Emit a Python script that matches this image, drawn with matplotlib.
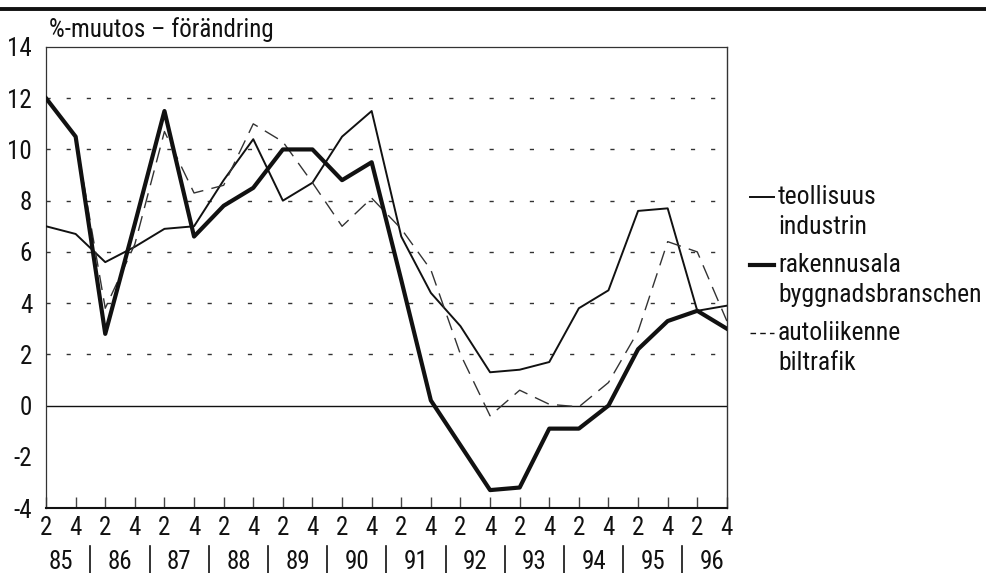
import matplotlib
matplotlib.use("Agg")
import matplotlib.pyplot as plt
from matplotlib.lines import Line2D
from matplotlib import font_manager
import numpy as np

# pick a narrow sans if one is installed
installed = set(f.name for f in font_manager.fontManager.ttflist)
narrow = [n for n in ['Roboto Condensed', 'Liberation Sans Narrow', 'Open Sans Condensed']
          if n in installed]
plt.rcParams['font.family'] = narrow[:1] + ['DejaVu Sans']
plt.rcParams['font.stretch'] = 'condensed'

# half-year observations, 1985 Q2 ... 1996 Q4
years = ['85', '86', '87', '88', '89', '90', '91', '92', '93', '94', '95', '96']
quarters = ['2', '4']

teollisuus = [7.0, 6.7, 5.6, 6.2, 6.9, 7.0, 8.8, 10.4, 8.0, 8.7, 10.5, 11.5,
              6.6, 4.4, 3.1, 1.3, 1.4, 1.7, 3.8, 4.5, 7.6, 7.7, 3.7, 3.9]
rakennusala = [12.0, 10.5, 2.8, 7.1, 11.5, 6.6, 7.8, 8.5, 10.0, 10.0, 8.8, 9.5,
               4.9, 0.2, -1.55, -3.3, -3.2, -0.9, -0.9, 0.0, 2.2, 3.3, 3.7, 3.0]
autoliikenne = [12.0, 10.5, 3.8, 6.3, 10.7, 8.3, 8.6, 11.0, 10.3, 8.7, 7.0, 8.1,
                6.9, 5.3, 2.0, -0.4, 0.6, 0.05, -0.05, 0.9, 2.9, 6.4, 6.0, 3.3]

x = np.arange(len(teollisuus))
ink = '#111111'

fig = plt.figure(figsize=(9.86, 5.73), dpi=100)
ax = fig.add_axes([0.0467, 0.1134, 0.6905, 0.8046])

# grid
for v in [2, 4, 6, 8, 10, 12]:
    ax.axhline(v, color='#333333', lw=1.0, ls=(0, (3, 11.5)), zorder=1)
ax.axhline(0, color=ink, lw=1.0, zorder=2)

ax.plot(x, teollisuus, color=ink, lw=1.4, zorder=3)
ax.plot(x, autoliikenne, color='#333333', lw=1.0, ls=(0, (11, 6)), zorder=3)
ax.plot(x, rakennusala, color=ink, lw=3.0, zorder=4)

ax.set_xlim(0, len(x) - 1)
ax.set_ylim(-4, 14)
ax.set_yticks(range(-4, 15, 2))
ax.set_yticklabels([str(v) for v in range(-4, 15, 2)], fontsize=18, color=ink)

ax.set_xticks(x)
ax.set_xticklabels(quarters * len(years), fontsize=18, color=ink)
ax.tick_params(axis='x', direction='in', length=8, width=1, color='#444444', pad=6)
ax.tick_params(axis='y', length=0, pad=10)

for s in ['top', 'left']:
    ax.spines[s].set_linestyle((0, (1, 1)))
    ax.spines[s].set_linewidth(0.9)
    ax.spines[s].set_color('#333333')
ax.spines['right'].set_linewidth(1.0)
ax.spines['right'].set_color('#333333')
ax.spines['bottom'].set_linewidth(1.5)
ax.spines['bottom'].set_color(ink)

# year labels and separators
trans = ax.get_xaxis_transform()
for k, yr in enumerate(years):
    ax.text(2 * k + 0.5, -0.118, yr, transform=trans, ha='center', va='center',
            fontsize=18, color=ink, clip_on=False)
    if k > 0:
        ax.add_line(Line2D([2 * k - 0.5, 2 * k - 0.5], [-0.082, -0.142],
                           transform=trans, color=ink, lw=1.2, clip_on=False))

fig.text(0.05, 0.949, '%-muutos \u2013 förändring', fontsize=18, color=ink,
         ha='left', va='center')

# top rule
fig.add_artist(Line2D([0, 1], [0.984, 0.984], transform=fig.transFigure,
                      color=ink, lw=2.8))

# legend
entries = [('teollisuus', 'industrin', 1.4, '-'),
           ('rakennusala', 'byggnadsbranschen', 3.0, '-'),
           ('autoliikenne', 'biltrafik', 1.0, (0, (4, 3)))]
ys = [0.656, 0.538, 0.419]
for (l1, l2, lw, ls), yy in zip(entries, ys):
    fig.add_artist(Line2D([0.761, 0.785], [yy, yy], transform=fig.transFigure,
                          color=ink, lw=lw, ls=ls))
    fig.text(0.789, yy, l1, fontsize=18.5, color=ink, ha='left', va='center')
    fig.text(0.789, yy - 0.053, l2, fontsize=18.5, color=ink, ha='left', va='center')

fig.savefig('out.png', dpi=100)
